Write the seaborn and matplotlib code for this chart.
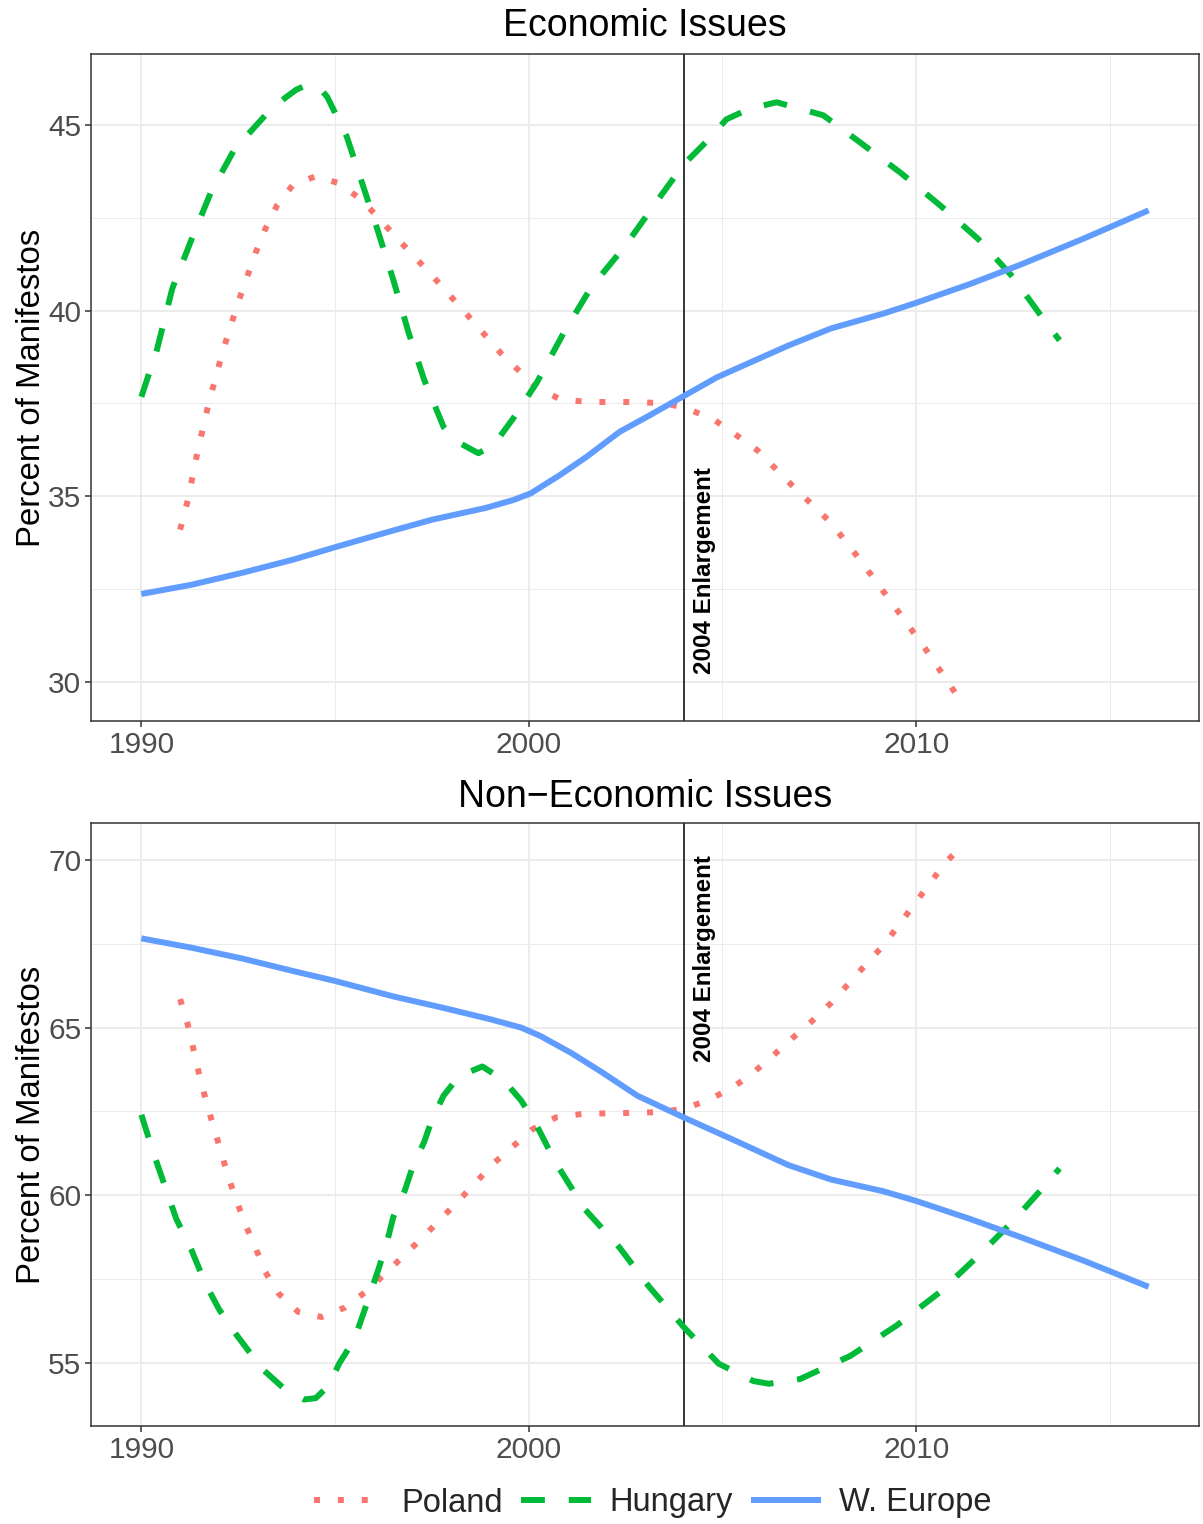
import matplotlib
matplotlib.use("Agg")
import matplotlib.pyplot as plt
import seaborn as sns
import pandas as pd
from matplotlib.ticker import MultipleLocator

# ---------------- data ----------------
countries = ["Poland", "Hungary", "W. Europe"]
colors = ["#F8766D", "#00BA38", "#619CFF"]

# Economic issues
econ_pl_x = [1991.0, 1991.2, 1991.45, 1991.75, 1992.1, 1992.5, 1992.95, 1993.2, 1993.5, 1993.9,
             1994.5, 1995.1, 1995.7, 1996.6, 1997.5, 1998.4, 1999.3, 2000.2, 2000.8, 2001.5,
             2002.5, 2003.5, 2004.1, 2004.8, 2005.3, 2005.9, 2006.8, 2007.8, 2008.6, 2009.4,
             2010.2, 2011.0]
econ_pl_y = [34.1, 34.9, 36.2, 37.56, 38.9, 40.23, 41.56, 42.2, 42.83, 43.37,
             43.62, 43.43, 42.97, 41.95, 40.95, 39.9, 38.83, 37.93, 37.62, 37.54,
             37.54, 37.51, 37.36, 37.05, 36.69, 36.24, 35.29, 34.29, 33.22, 32.09,
             30.95, 29.72]

econ_hu_x = [1990.0, 1990.4, 1990.8, 1991.3, 1991.8, 1992.4, 1993.2, 1993.7, 1994.0, 1994.3,
             1994.6, 1994.8, 1995.3, 1995.7, 1996.1, 1996.5, 1996.9, 1997.3, 1997.8, 1998.1,
             1998.7, 1999.1, 1999.6, 2000.2, 2000.9, 2001.6, 2002.5, 2003.4, 2004.0, 2004.5,
             2005.1, 2005.7, 2006.4, 2007.6, 2008.5, 2009.6, 2010.6, 2011.6, 2012.5, 2013.3,
             2013.7]
econ_hu_y = [37.68, 38.94, 40.6, 41.93, 43.2, 44.34, 45.26, 45.72, 45.95, 46.09,
             46.0, 45.75, 44.69, 43.43, 42.16, 40.84, 39.4, 38.14, 36.87, 36.5,
             36.16, 36.39, 37.1, 38.05, 39.4, 40.61, 41.76, 43.08, 43.94, 44.46,
             45.15, 45.44, 45.61, 45.26, 44.57, 43.71, 42.85, 41.93, 40.9, 39.75,
             39.2]

econ_we_x = [1990.0, 1991.3, 1992.6, 1993.9, 1995.0, 1996.3, 1997.5, 1998.9, 1999.6, 2000.05,
             2000.8, 2001.5, 2002.35, 2003.05, 2004.0, 2004.85, 2005.6, 2006.7, 2007.8, 2009.15,
             2010.0, 2011.4, 2012.7, 2014.3, 2016.0]
econ_we_y = [32.37, 32.62, 32.94, 33.29, 33.63, 34.02, 34.37, 34.69, 34.9, 35.08,
             35.57, 36.07, 36.74, 37.14, 37.7, 38.2, 38.55, 39.06, 39.52, 39.92,
             40.21, 40.72, 41.24, 41.93, 42.7]

# Non-economic issues
non_pl_x = [1991.0, 1991.2, 1991.35, 1991.5, 1991.67, 1991.85, 1992.05, 1992.23, 1992.45, 1992.68,
            1992.95, 1993.2, 1993.55, 1994.05, 1994.65, 1995.25, 1995.8, 1996.3, 1997.25, 1998.2,
            1999.1, 2000.1, 2000.7, 2001.4, 2002.4, 2003.4, 2004.05, 2004.65, 2005.25, 2005.8,
            2006.3, 2006.8, 2007.3, 2007.8, 2008.25, 2008.7, 2009.15, 2009.55, 2009.95, 2010.35,
            2010.75, 2011.0]
non_pl_y = [65.85, 65.08, 64.32, 63.56, 62.82, 62.09, 61.33, 60.59, 59.86, 59.14,
            58.42, 57.71, 57.06, 56.52, 56.37, 56.65, 57.13, 57.67, 58.73, 59.85,
            60.96, 61.97, 62.32, 62.43, 62.45, 62.48, 62.59, 62.85, 63.2, 63.66,
            64.16, 64.68, 65.18, 65.73, 66.3, 66.88, 67.45, 68.05, 68.68, 69.29,
            69.92, 70.2]

non_hu_x = [1990.0, 1990.3, 1990.6, 1990.9, 1991.3, 1991.65, 1992.0, 1992.35, 1992.8, 1993.15,
            1993.7, 1994.2, 1994.5, 1994.85, 1995.1, 1995.5, 1995.7, 1995.95, 1996.15, 1996.35,
            1996.5, 1996.8, 1997.0, 1997.3, 1997.5, 1997.8, 1998.2, 1998.8, 1999.35, 1999.8,
            2000.15, 2000.7, 2001.45, 2002.35, 2003.1, 2004.0, 2004.9, 2005.8, 2006.2, 2007.0,
            2008.3, 2009.5, 2010.6, 2011.6, 2012.5, 2013.3, 2013.7]
non_hu_y = [62.4, 61.3, 60.3, 59.3, 58.35, 57.37, 56.61, 56.0, 55.31, 54.79,
            54.22, 53.91, 53.95, 54.34, 54.97, 55.71, 56.37, 57.21, 57.9, 58.65,
            59.34, 60.14, 60.84, 61.59, 62.25, 62.97, 63.55, 63.84, 63.43, 62.83,
            62.2, 60.96, 59.58, 58.43, 57.28, 56.07, 54.98, 54.46, 54.38, 54.52,
            55.21, 56.12, 57.1, 58.19, 59.23, 60.26, 60.8]

non_we_x = [1990.0, 1991.3, 1992.6, 1993.9, 1995.0, 1996.5, 1997.75, 1999.0, 1999.8, 2000.3,
            2001.1, 2001.9, 2002.8, 2004.0, 2005.4, 2006.7, 2007.8, 2009.15, 2010.0, 2011.4,
            2012.7, 2014.3, 2016.0]
non_we_y = [67.66, 67.38, 67.06, 66.69, 66.39, 65.93, 65.6, 65.25, 65.0, 64.75,
            64.24, 63.66, 62.97, 62.32, 61.59, 60.9, 60.47, 60.12, 59.83, 59.29,
            58.75, 58.06, 57.27]

panel_titles = ["Economic Issues", "Non\u2212Economic Issues"]
x_ticks = [1990, 2000, 2010]
econ_yticks = [30, 35, 40, 45]
non_yticks = [55, 60, 65, 70]
enlargement_year = 2004
annot_text = "2004 Enlargement"

# ---------------- build tables ----------------
def make_df(series):
    rows = []
    for name, xs, ys in series:
        for xv, yv in zip(xs, ys):
            rows.append({"year": xv, "value": yv, "country": name})
    return pd.DataFrame(rows)

df_econ = make_df([("Poland", econ_pl_x, econ_pl_y),
                   ("Hungary", econ_hu_x, econ_hu_y),
                   ("W. Europe", econ_we_x, econ_we_y)])
df_non = make_df([("Poland", non_pl_x, non_pl_y),
                  ("Hungary", non_hu_x, non_hu_y),
                  ("W. Europe", non_we_x, non_we_y)])

# ---------------- style ----------------
sns.set_theme(style="white")
plt.rcParams["font.family"] = ["Liberation Sans", "DejaVu Sans"]

W, H = 1203, 1524
fig = plt.figure(figsize=(W / 100, H / 100), dpi=100)

def ax_rect(l, t, r, b):
    return [l / W, 1 - b / H, (r - l) / W, (b - t) / H]

ax1 = fig.add_axes(ax_rect(91, 54, 1199, 721))
ax2 = fig.add_axes(ax_rect(91, 823, 1199, 1426))

palette = dict(zip(countries, colors))
dashes = {"Poland": (1, 3), "Hungary": (4, 4), "W. Europe": ""}
LW = 4.3

panels = [
    (ax1, df_econ, (28.95, 46.91), econ_yticks, panel_titles[0], 30.22, 13.0),
    (ax2, df_non, (53.12, 71.10), non_yticks, panel_titles[1], 63.96, 11.8),
]

for i, (ax, df, ylim, yticks, title, ann_y, tpad) in enumerate(panels):
    sns.lineplot(data=df, x="year", y="value", hue="country", style="country",
                 hue_order=countries, style_order=countries, palette=palette,
                 dashes=dashes, linewidth=LW, estimator=None, ax=ax,
                 legend=(i == 0))
    for ln in ax.get_lines():
        ln.set_solid_capstyle("butt")
        ln.set_dash_capstyle("butt")
        ln.set_solid_joinstyle("round")
        ln.set_dash_joinstyle("round")
    ax.axvline(enlargement_year, color="black", lw=1.1, zorder=1)
    ax.text(enlargement_year + 0.53, ann_y, annot_text, rotation=90,
            rotation_mode="anchor", ha="left", va="center",
            fontsize=17.4, fontweight="bold", color="black")
    ax.set_xlim(1988.7, 2017.3)
    ax.set_ylim(*ylim)
    ax.set_xticks(x_ticks)
    ax.set_yticks(yticks)
    ax.xaxis.set_minor_locator(MultipleLocator(5))
    ax.yaxis.set_minor_locator(MultipleLocator(2.5))
    ax.grid(which="major", color="#EBEBEB", lw=1.3, zorder=0)
    ax.grid(which="minor", color="#EBEBEB", lw=0.7, zorder=0)
    ax.set_axisbelow(True)
    ax.tick_params(which="major", direction="out", length=4, width=1.1,
                   color="#333333", labelsize=21.5, labelcolor="#4D4D4D",
                   pad=3, bottom=True, left=True)
    ax.tick_params(which="minor", length=0)
    for s in ax.spines.values():
        s.set_color("#333333")
        s.set_linewidth(1.1)
    ax.set_xlabel("")
    ax.set_ylabel("Percent of Manifestos", fontsize=23.7, color="black")
    ax.yaxis.set_label_coords(-0.040, 0.5)
    ax.set_title(title, fontsize=27, color="black", pad=tpad)

handles, labels = ax1.get_legend_handles_labels()
ax1.get_legend().remove()
leg = fig.legend(handles, labels, loc="center", bbox_to_anchor=(652.5 / W, 1 - 1503 / H),
                 ncol=3, frameon=False, fontsize=23.5, handlelength=2.15,
                 handletextpad=0.55, columnspacing=0.55)
for ln in leg.get_lines():
    ln.set_linewidth(LW)
    ln.set_solid_capstyle("butt")
    ln.set_dash_capstyle("butt")

fig.savefig("out.png", dpi=100)
